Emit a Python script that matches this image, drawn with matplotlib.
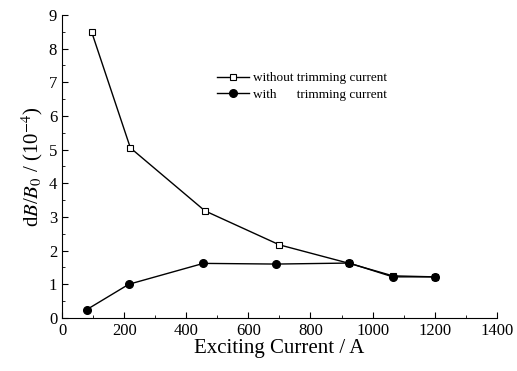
import matplotlib

matplotlib.use("Agg")

import matplotlib.pyplot as plt
from matplotlib.ticker import MultipleLocator

plt.rcParams["font.family"] = ["Liberation Serif", "DejaVu Serif"]
plt.rcParams["mathtext.fontset"] = "stix"

x_without = [95, 220, 460, 700, 925, 1065, 1200]
y_without = [8.5, 5.05, 3.18, 2.17, 1.62, 1.25, 1.22]
x_with = [80, 215, 455, 690, 925, 1065, 1200]
y_with = [0.25, 1.0, 1.62, 1.6, 1.63, 1.22, 1.22]

fig = plt.figure(figsize=(5.17, 3.71), dpi=100)
ax = fig.add_axes([0.12, 0.143, 0.841, 0.817])

ax.plot(x_without, y_without, color="black", lw=1.0, marker="s", ms=5,
        mfc="white", mec="black", mew=0.8, label="without trimming current")
ax.plot(x_with, y_with, color="black", lw=1.0, marker="o", ms=5.5,
        mfc="black", mec="black", label="with      trimming current")

ax.set_xlim(0, 1400)
ax.set_ylim(0, 9)
ax.xaxis.set_major_locator(MultipleLocator(200))
ax.xaxis.set_minor_locator(MultipleLocator(100))
ax.yaxis.set_major_locator(MultipleLocator(1))
ax.yaxis.set_minor_locator(MultipleLocator(0.5))
ax.tick_params(which="both", direction="in", labelsize=12)
ax.tick_params(which="major", length=4)
ax.tick_params(which="minor", length=2)
for s in ["top", "right"]:
    ax.spines[s].set_visible(False)

ax.set_xlabel("Exciting Current / A", fontsize=15, labelpad=0)
ax.set_ylabel(r"d$B$/$B_0$ / (10$^{-4}$)", fontsize=15, labelpad=3)

ax.legend(loc="upper left", bbox_to_anchor=(0.33, 0.85), frameon=False,
          fontsize=9.5, handlelength=2.4, handletextpad=0.3, labelspacing=0.3)

fig.savefig("out.png", dpi=100)
